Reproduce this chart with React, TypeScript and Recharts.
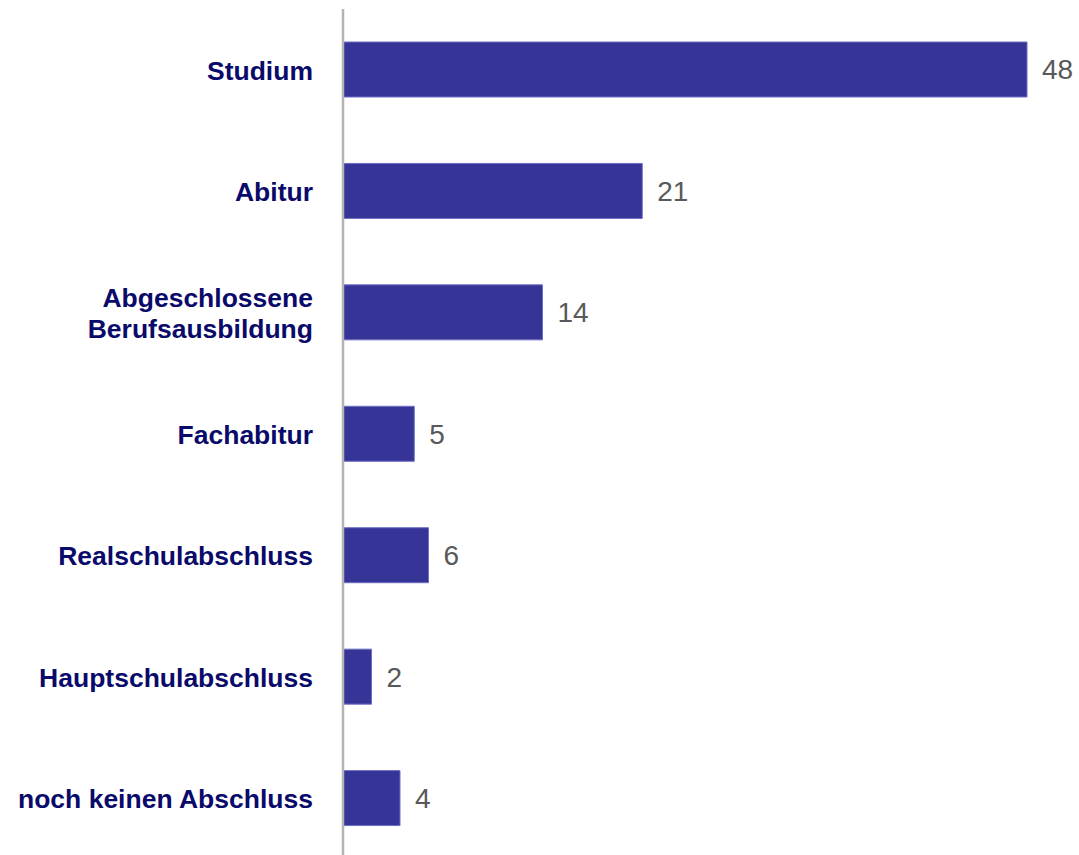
import React from "react";
import { BarChart, Bar, XAxis, YAxis, LabelList } from "recharts";

const categories = [
  "Studium",
  "Abitur",
  "Abgeschlossene\nBerufsausbildung",
  "Fachabitur",
  "Realschulabschluss",
  "Hauptschulabschluss",
  "noch keinen Abschluss",
];
const values = [48, 21, 14, 5, 6, 2, 4];

const data = categories.map((name, i) => ({ name, value: values[i] }));

const FONT = "'Liberation Sans', Arial, sans-serif";

const CategoryTick = (props: any) => {
  const { x, y, payload } = props;
  const lines = String(payload.value).split("\n");
  const lh = 31;
  const start = -((lines.length - 1) * lh) / 2;
  return (
    <text
      x={x}
      y={y}
      textAnchor="end"
      fill="#0a0a6a"
      fontFamily={FONT}
      fontWeight="bold"
      fontSize={26.5}
    >
      {lines.map((l, i) => (
        <tspan key={i} x={x} y={y + start + i * lh} dy="0.38em">
          {l}
        </tspan>
      ))}
    </text>
  );
};

export default function App() {
  return (
    <div
      style={{
        position: "absolute",
        left: 0,
        top: 0,
        width: 1079,
        height: 855,
        overflow: "hidden",
        background: "#fff",
      }}
    >
      <BarChart
        width={1079}
        height={860}
        data={data}
        layout="vertical"
        margin={{ top: 9, right: 52, left: 0, bottom: 1 }}
        barCategoryGap={33}
      >
        <XAxis type="number" domain={[0, 48]} hide />
        <YAxis
          type="category"
          dataKey="name"
          width={343}
          axisLine={{ stroke: "#b3b3b3", strokeWidth: 2.5 }}
          tickLine={false}
          tickSize={0}
          tickMargin={30}
          tick={<CategoryTick />}
          interval={0}
        />
        <Bar
          dataKey="value"
          fill="#363597"
          stroke="#6e6ec6"
          strokeWidth={1}
          barSize={55}
          isAnimationActive={false}
        >
          <LabelList
            dataKey="value"
            position="right"
            offset={15}
            fill="#595959"
            fontSize={28}
            fontFamily={FONT}
          />
        </Bar>
      </BarChart>
    </div>
  );
}
